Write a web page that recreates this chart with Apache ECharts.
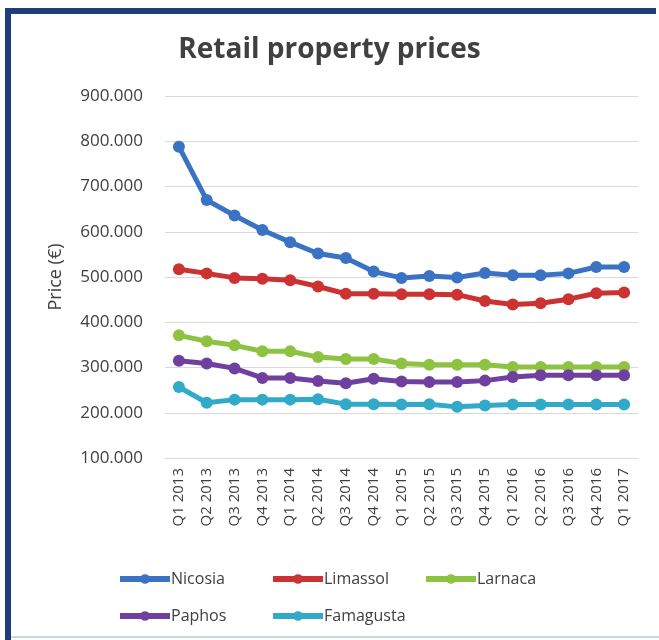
<!DOCTYPE html>
<html>
<head>
<meta charset="utf-8">
<script src="https://cdn.jsdelivr.net/npm/echarts@6/dist/echarts.min.js"></script>
<style>
  html, body { margin: 0; padding: 0; background: #fff; }
  #main { width: 659px; height: 640px; }
</style>
</head>
<body>
<div id="main"></div>
<script>
// quarters on the x axis
var quarters = ['Q1 2013', 'Q2 2013', 'Q3 2013', 'Q4 2013', 'Q1 2014', 'Q2 2014', 'Q3 2014', 'Q4 2014',
  'Q1 2015', 'Q2 2015', 'Q3 2015', 'Q4 2015', 'Q1 2016', 'Q2 2016', 'Q3 2016', 'Q4 2016', 'Q1 2017'];

// prices in euro
var nicosia = [788000, 670000, 636000, 604000, 577000, 552000, 542000, 512000, 498000, 502000, 499000, 509000, 504000, 504000, 508000, 522000, 522000];
var limassol = [517000, 508000, 498000, 496000, 493000, 479000, 463000, 463000, 462000, 462000, 461000, 447000, 439000, 442000, 451000, 464000, 466000];
var larnaca = [371000, 358000, 349000, 336000, 336000, 323000, 319000, 319000, 309000, 306000, 306000, 306000, 301000, 301000, 301000, 301000, 301000];
var paphos = [315000, 309000, 298000, 277000, 277000, 270000, 265000, 275000, 269000, 268000, 268000, 271000, 279000, 283000, 283000, 283000, 283000];
var famagusta = [257000, 222000, 229000, 229000, 229000, 230000, 219000, 219000, 218000, 219000, 213000, 216000, 218000, 218000, 218000, 218000, 218000];

var colors = ['#3a72c4', '#cc3232', '#8dc340', '#7040a0', '#31a9c9'];

var myChart = echarts.init(document.getElementById('main'));

function line(name, data) {
  return {
    name: name,
    type: 'line',
    data: data,
    symbol: 'circle',
    symbolSize: 12,
    lineStyle: { width: 5 }
  };
}

// one legend per entry so the columns line up like the original
function legendItem(name, left, top) {
  return {
    data: [name],
    left: left, top: top,
    itemWidth: 50, itemHeight: 12,
    lineStyle: { width: 6 },
    textStyle: { color: '#404040', fontSize: 16, fontFamily: 'Open Sans', padding: [0, 0, 0, -4] }
  };
}

var option = {
  color: colors,
  animation: false,
  textStyle: { fontFamily: 'Open Sans' },
  title: {
    text: 'Retail property prices',
    left: 'center',
    top: 31,
    textStyle: { fontSize: 28, fontWeight: 'bold', color: '#404040', fontFamily: 'Open Sans' }
  },
  legend: [
    legendItem('Nicosia', 112, 566),
    legendItem('Limassol', 265, 566),
    legendItem('Larnaca', 418, 566),
    legendItem('Paphos', 112, 603),
    legendItem('Famagusta', 265, 603)
  ],
  grid: { left: 165, right: 21, top: 96, bottom: 182 },
  xAxis: {
    type: 'category',
    data: quarters,
    boundaryGap: true,
    axisLine: { lineStyle: { color: '#d9d9d9' } },
    axisTick: { show: false },
    axisLabel: { rotate: 90, color: '#404040', fontSize: 15, margin: 10, interval: 0 }
  },
  yAxis: {
    type: 'value',
    name: 'Price (€)',
    nameLocation: 'middle',
    nameGap: 100,
    nameTextStyle: { color: '#404040', fontSize: 18 },
    min: 100000,
    max: 900000,
    interval: 100000,
    axisLine: { show: false },
    axisTick: { show: false },
    axisLabel: {
      color: '#404040', fontSize: 17, margin: 22,
      formatter: function (v) { return (v / 1000).toFixed(3); }
    },
    splitLine: { lineStyle: { color: '#d9d9d9' } }
  },
  graphic: [
    { type: 'rect', shape: { x: 5, y: 8, width: 651, height: 6 }, style: { fill: '#1f3d7a' } },
    { type: 'rect', shape: { x: 5, y: 8, width: 6, height: 632 }, style: { fill: '#1f3d7a' } },
    { type: 'rect', shape: { x: 11, y: 636, width: 648, height: 2 }, style: { fill: '#c9d6e6' } }
  ],
  series: [
    line('Nicosia', nicosia),
    line('Limassol', limassol),
    line('Larnaca', larnaca),
    line('Paphos', paphos),
    line('Famagusta', famagusta)
  ]
};

myChart.setOption(option);
</script>
</body>
</html>
